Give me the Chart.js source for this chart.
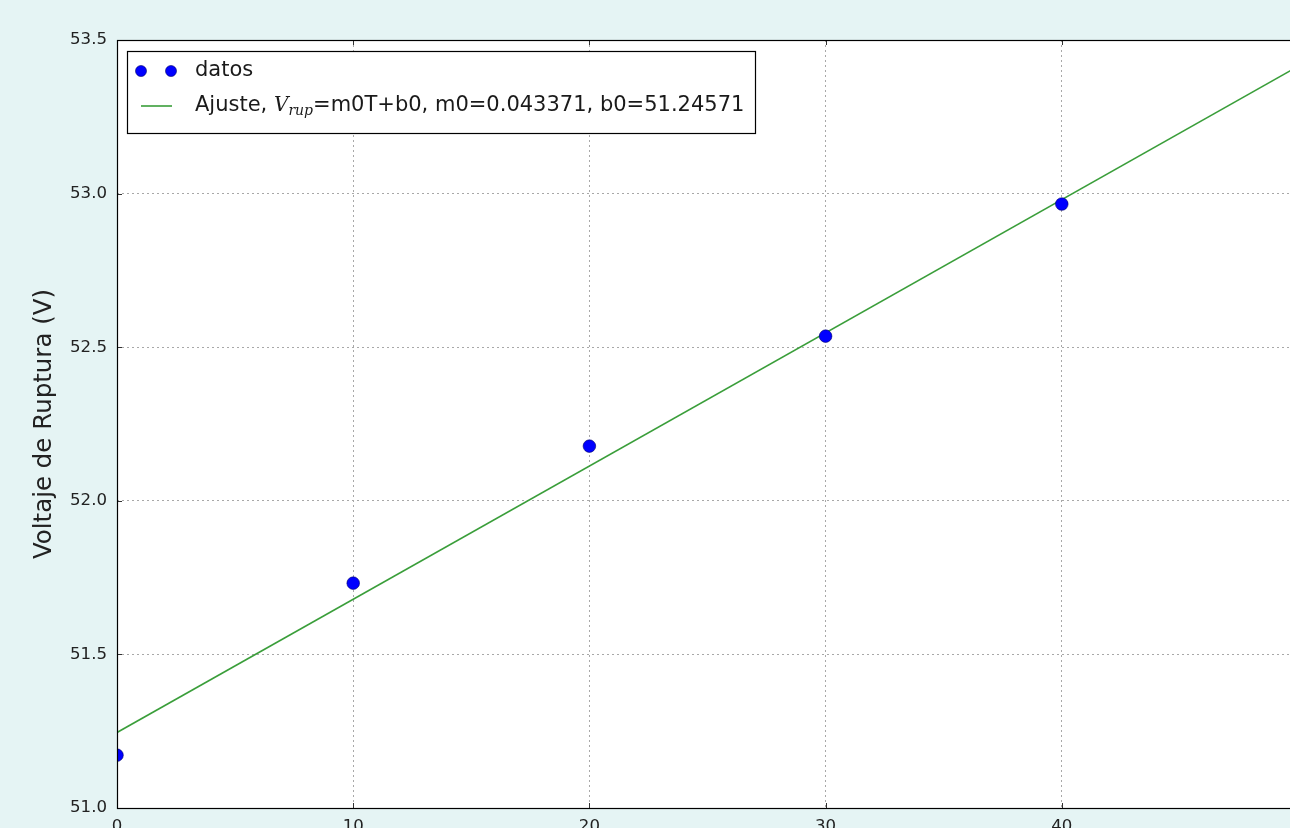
<!DOCTYPE html>
<html>
<head>
<meta charset="utf-8">
<title>Voltaje de Ruptura</title>
<script src="https://cdn.jsdelivr.net/npm/chart.js@4.4.1/dist/chart.umd.min.js"></script>
<style>
  html, body { margin: 0; padding: 0; overflow: hidden; background: #e5f4f4; }
  #wrap { position: absolute; left: 0; top: 0; width: 1330px; height: 870px; }
</style>
</head>
<body>
<div id="wrap"><canvas id="c" width="1330" height="870"></canvas></div>
<script>
// Temperaturas medidas (°C) y voltaje de ruptura (V)
const temperatura = [0, 10, 20, 30, 40];
const voltaje = [51.172, 51.732, 52.178, 52.536, 52.966];

// Parámetros del ajuste lineal V_rup = m0*T + b0
const m0 = 0.043371;
const b0 = 51.24571;
const ajusteT = [0, 50];

// Marcas de los ejes
const xTicks = [0, 10, 20, 30, 40];
const yTicks = [51.0, 51.5, 52.0, 52.5, 53.0, 53.5];

const FONT = "'DejaVu Sans', sans-serif";

// Marco de los ejes con marcas hacia dentro
const framePlugin = {
  id: 'frame',
  afterDatasetsDraw(chart) {
    const { ctx, chartArea: a, scales } = chart;
    ctx.save();
    ctx.strokeStyle = '#333';
    ctx.lineWidth = 1;
    ctx.beginPath();
    xTicks.forEach(t => {
      const x = Math.round(scales.x.getPixelForValue(t)) + 0.5;
      ctx.moveTo(x, a.bottom); ctx.lineTo(x, a.bottom - 5);
      ctx.moveTo(x, a.top); ctx.lineTo(x, a.top + 5);
    });
    yTicks.forEach(t => {
      const y = Math.round(scales.y.getPixelForValue(t)) + 0.5;
      ctx.moveTo(a.left, y); ctx.lineTo(a.left + 5, y);
      ctx.moveTo(a.right, y); ctx.lineTo(a.right - 5, y);
    });
    ctx.stroke();
    ctx.strokeStyle = '#000';
    ctx.lineWidth = 1.2;
    ctx.strokeRect(Math.round(a.left) + 0.5, Math.round(a.top) + 0.5,
                   Math.round(a.right - a.left), Math.round(a.bottom - a.top));
    ctx.restore();
  }
};

// Leyenda con dos marcadores y subíndice matemático
const legendPlugin = {
  id: 'mplLegend',
  afterDraw(chart) {
    const { ctx, chartArea: a } = chart;
    const ds = chart.data.datasets;
    const fs = 21;
    const bx = a.left + 10, by = a.top + 11;
    const textX = bx + 68;
    const row1 = by + 20, row2 = by + 55;
    ctx.save();
    // medir la segunda etiqueta
    const pre = 'Ajuste, ';
    const post = '=m0T+b0, m0=' + m0.toFixed(6) + ', b0=' + b0.toFixed(5);
    const fMain = fs + 'px ' + FONT;
    const fV = 'italic ' + (fs - 1) + "px 'DejaVu Serif', serif";
    const fSub = 'italic ' + Math.round(fs * 0.68) + "px 'DejaVu Serif', serif";
    ctx.font = fMain;
    const wPre = ctx.measureText(pre).width;
    const wPost = ctx.measureText(post).width;
    ctx.font = fV;
    const wV = ctx.measureText('V').width;
    ctx.font = fSub;
    const wSub = ctx.measureText('rup').width;
    const totalW = wPre + wV + wSub + wPost;
    const bw = (textX - bx) + totalW + 11;
    const bh = 82;
    ctx.fillStyle = '#fff';
    ctx.fillRect(bx, by, bw, bh);
    ctx.strokeStyle = '#000';
    ctx.lineWidth = 1.2;
    ctx.strokeRect(Math.round(bx) + 0.5, Math.round(by) + 0.5, Math.round(bw), bh);

    // marcadores de "datos"
    ctx.fillStyle = ds[0].backgroundColor;
    ctx.strokeStyle = ds[0].borderColor;
    ctx.lineWidth = 0.6;
    [bx + 14, bx + 44].forEach(x => {
      ctx.beginPath(); ctx.arc(x, row1, 5.5, 0, Math.PI * 2); ctx.fill(); ctx.stroke();
    });
    // línea del ajuste
    ctx.strokeStyle = ds[1].borderColor;
    ctx.lineWidth = 1.6;
    ctx.beginPath(); ctx.moveTo(bx + 14, row2); ctx.lineTo(bx + 45, row2); ctx.stroke();

    // textos
    ctx.fillStyle = '#1a1a1a';
    ctx.textBaseline = 'middle';
    ctx.textAlign = 'left';
    ctx.font = fMain;
    ctx.fillText(ds[0].label, textX, row1);
    let x = textX;
    ctx.fillText(pre, x, row2); x += wPre;
    ctx.font = fV;
    ctx.fillText('V', x, row2); x += wV;
    ctx.font = fSub;
    ctx.fillText('rup', x, row2 + 5); x += wSub;
    ctx.font = fMain;
    ctx.fillText(post, x, row2);
    ctx.restore();
  }
};

new Chart(document.getElementById('c'), {
  type: 'scatter',
  data: {
    datasets: [
      {
        label: 'datos',
        data: temperatura.map((t, i) => ({ x: t, y: voltaje[i] })),
        backgroundColor: '#0000ff',
        borderColor: '#000066',
        borderWidth: 0.6,
        pointRadius: 6.3,
        pointHoverRadius: 6.3,
        clip: 0,
        order: 0
      },
      {
        label: 'Ajuste',
        type: 'line',
        data: ajusteT.map(t => ({ x: t, y: m0 * t + b0 })),
        borderColor: '#3a9e3a',
        borderWidth: 1.6,
        pointRadius: 0,
        fill: false,
        clip: 0,
        order: 1
      }
    ]
  },
  options: {
    responsive: false,
    animation: false,
    events: [],
    layout: { padding: { top: 40, right: 32, bottom: 30, left: 0 } },
    plugins: {
      legend: { display: false },
      tooltip: { enabled: false },
      title: { display: false }
    },
    scales: {
      x: {
        type: 'linear',
        min: 0, max: 50,
        afterBuildTicks: s => { s.ticks = xTicks.map(v => ({ value: v })); },
        afterFit: s => { s.height = 32; },
        border: { display: false, dash: [2, 3] },
        grid: { color: '#a8a8a8', lineWidth: 1, drawTicks: false },
        ticks: { padding: 9, color: '#222', font: { family: FONT, size: 16.6 } },
        title: { display: false, text: 'Temperatura (°C)' }
      },
      y: {
        type: 'linear',
        min: 51.0, max: 53.5,
        afterBuildTicks: s => { s.ticks = yTicks.map(v => ({ value: v })); },
        afterFit: s => { s.width = 117; },
        border: { display: false, dash: [2, 3] },
        grid: { color: '#a8a8a8', lineWidth: 1, drawTicks: false },
        ticks: { padding: 10, color: '#222', font: { family: FONT, size: 16.6 },
                 callback: v => v.toFixed(1) },
        title: { display: true, text: 'Voltaje de Ruptura (V)', color: '#222',
                 padding: { top: 30, bottom: 0 }, font: { family: FONT, size: 24.5 } }
      }
    }
  },
  plugins: [{
    id: 'bg',
    beforeDraw(chart) {
      const { ctx, chartArea: a } = chart;
      ctx.save();
      ctx.fillStyle = '#e5f4f4';
      ctx.fillRect(0, 0, chart.width, chart.height);
      ctx.fillStyle = '#ffffff';
      ctx.fillRect(a.left, a.top, a.right - a.left, a.bottom - a.top);
      ctx.restore();
    }
  }, framePlugin, legendPlugin]
});
</script>
</body>
</html>
